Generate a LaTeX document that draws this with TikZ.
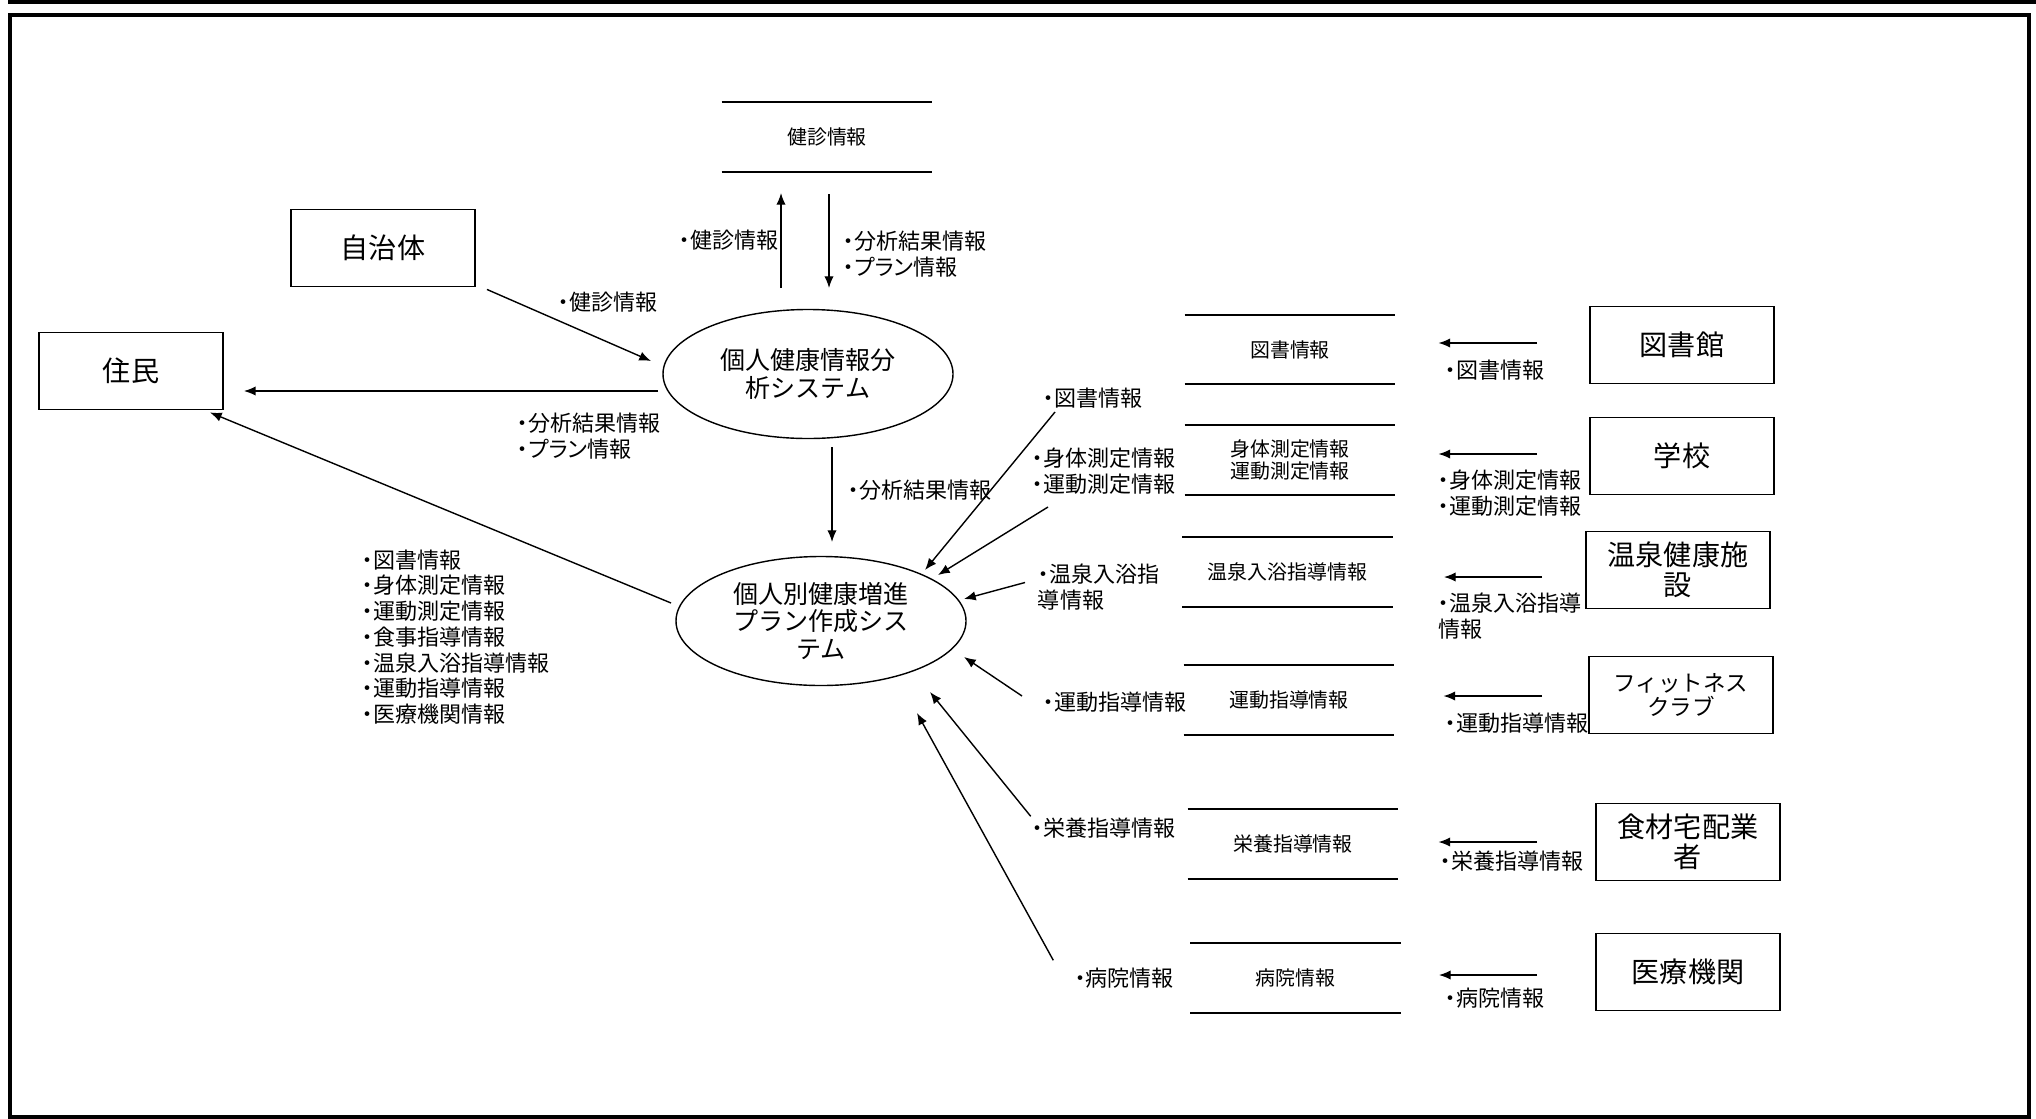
\documentclass[tikz,border=0pt]{standalone}
\usepackage{fontspec}
\setmainfont{Noto Sans CJK JP}
\newfontfamily\lblfont{Noto Sans CJK JP}[RawFeature=+palt]
\usetikzlibrary{shapes.geometric, arrows.meta, positioning, calc}
\tikzstyle{flow} = [line width=0.6pt,->,>={Latex[length=5pt,width=4pt]}]
\tikzstyle{entity} = [rectangle, draw=black, line width=0.8pt, minimum width=2.76cm, minimum height=1.155cm, inner sep=0pt, align=center, font=\fontsize{12pt}{12.8pt}\selectfont]
\tikzstyle{process} = [ellipse, draw=black, line width=0.6pt, minimum width=4.35cm, minimum height=1.935cm, inner sep=0pt, align=center, font=\fontsize{10.7pt}{11.7pt}\selectfont]
\tikzstyle{store} = [rectangle, minimum width=3.15cm, minimum height=1.03cm, inner sep=0pt, align=center, font=\fontsize{8.5pt}{9.6pt}\selectfont]
\tikzstyle{info} = [inner sep=0pt, align=left, anchor=west, font=\lblfont\fontsize{9.4pt}{11.1pt}\selectfont]

\begin{document}
\begin{tikzpicture}[x=0.015cm, y=-0.015cm]
        \useasboundingbox (0,0) rectangle (2036,1118);
        % Frame
        \draw [line width=0.06cm] (8,2) -- (2036,2);
        \draw [line width=0.06cm] (10,15) rectangle (2029,1116.5);

        % External entities
        \node (city) [entity] at (383,248) {自治体};
        \node (res) [entity] at (131,371) {住民};
        \node (lib) [entity] at (1682,345) {図書館};
        \node (school) [entity] at (1682,456) {学校};
        \node (spa) [entity] at (1678,570) {温泉健康施\\設};
        \node (gym) [entity, font=\fontsize{9.6pt}{10pt}\selectfont] at (1681,695) {フィットネス\\クラブ};
        \node (food) [entity] at (1688,842) {食材宅配業\\者};
        \node (med) [entity] at (1688,972) {医療機関};

        % Processes
        \node (ana) [process] at (808,374) {個人健康情報分\\析システム};
        \node (plan) [process] at (821,621) {個人別健康増進\\プラン作成シス\\テム};

        % Data stores (top and bottom lines only)
        \node (ks) [store] at (827,137) {健診情報};
        \node (libs) [store] at (1290,349.5) {図書情報};
        \node (bodys) [store] at (1290,460) {身体測定情報\\運動測定情報};
        \node (onsens) [store] at (1287.5,572) {温泉入浴指導情報};
        \node (exs) [store] at (1289,700) {運動指導情報};
        \node (nuts) [store] at (1293,844) {栄養指導情報};
        \node (hosps) [store] at (1295.5,978) {病院情報};
        \draw [line width=0.8pt] (ks.north west) -- (ks.north east) (ks.south west) -- (ks.south east);
        \draw [line width=0.8pt] (libs.north west) -- (libs.north east) (libs.south west) -- (libs.south east);
        \draw [line width=0.8pt] (bodys.north west) -- (bodys.north east) (bodys.south west) -- (bodys.south east);
        \draw [line width=0.8pt] (onsens.north west) -- (onsens.north east) (onsens.south west) -- (onsens.south east);
        \draw [line width=0.8pt] (exs.north west) -- (exs.north east) (exs.south west) -- (exs.south east);
        \draw [line width=0.8pt] (nuts.north west) -- (nuts.north east) (nuts.south west) -- (nuts.south east);
        \draw [line width=0.8pt] (hosps.north west) -- (hosps.north east) (hosps.south west) -- (hosps.south east);

        % Labels
        \node (ksupl) [info, anchor=east] at (779,240) {・健診情報};
        \node (ksdownl) [info] at (843,254) {・分析結果情報\\・プラン情報};
        \node (cityl) [info] at (558,302) {・健診情報};
        \node (resl) [info] at (517,436) {・分析結果情報\\・プラン情報};
        \node (anal) [info] at (848,490) {・分析結果情報};
        \node (list) [info, font=\lblfont\fontsize{9.4pt}{11pt}\selectfont] at (362,637) {・図書情報\\・身体測定情報\\・運動測定情報\\・食事指導情報\\・温泉入浴指導情報\\・運動指導情報\\・医療機関情報};
        \node (libl) [info] at (1043,398) {・図書情報};
        \node (bodyl) [info] at (1032,471) {・身体測定情報\\・運動測定情報};
        \node (spal) [info] at (1037.5,587.5) {・温泉入浴指\\導情報};
        \node (exl) [info] at (1043,702) {・運動指導情報};
        \node (nutl) [info] at (1031.7,828.3) {・栄養指導情報};
        \node (hospl) [info] at (1074.3,978.3) {・病院情報};
        \node (libr) [info] at (1445,370) {・図書情報};
        \node (schoolr) [info] at (1438,493) {・身体測定情報\\・運動測定情報};
        \node (spar) [info] at (1438,616) {・温泉入浴指導\\情報};
        \node (gymr) [info] at (1445,723) {・運動指導情報};
        \node (foodr) [info] at (1440,861) {・栄養指導情報};
        \node (medr) [info] at (1445,998) {・病院情報};

        % Flows around the analysis system
        \draw [flow] ($(ana)+(-27,-86)$) -- ($(ks)+(-46,56)$);
        \draw [flow] ($(ks)+(2,57)$) -- ($(ana)+(21,-86)$);
        \draw [flow] ($(city.south east)+(11,2)$) -- ($(ana)+(-157,-13)$);
        \draw [flow] ($(ana)+(-150,17)$) -- ($(res.east)+(20,20)$);
        \draw [flow] ($(ana)+(24,73)$) -- ($(plan)+(11,-79)$);
        \draw [flow] ($(plan)+(-150,-18)$) -- ($(res.south east)+(-14,2)$);

        % Flows from the stores into the plan system
        \draw [flow] ($(libl.west)+(12,14)$) -- ($(plan)+(104,-51)$);
        \draw [flow] ($(bodyl.west)+(16,36)$) -- ($(plan)+(117,-46)$);
        \draw [flow] ($(spal.west)+(-12.5,-5)$) -- ($(plan)+(143,-22)$);
        \draw [flow] ($(exl.west)+(-21,-6)$) -- ($(plan)+(143,36)$);
        \draw [flow] ($(nutl.west)+(-1,-12)$) -- ($(plan)+(109,71)$);
        \draw [flow] ($(hospl.west)+(-21,-18)$) -- ($(plan)+(96,92)$);

        % Flows from the providers into the stores
        \draw [flow] ($(lib.west)+(-52,-2)$) -- ($(libs.east)+(43,-6.5)$);
        \draw [flow] ($(school.west)+(-52,-2)$) -- ($(bodys.east)+(43,-6)$);
        \draw [flow] ($(spa.west)+(-43,7)$) -- ($(onsens.east)+(51,5)$);
        \draw [flow] ($(gym.west)+(-46,1)$) -- ($(exs.east)+(49,-4)$);
        \draw [flow] ($(food.west)+(-58,0)$) -- ($(nuts.east)+(40,-2)$);
        \draw [flow] ($(med.west)+(-58,3)$) -- ($(hosps.east)+(38,-3)$);
    \end{tikzpicture}
\end{document}
